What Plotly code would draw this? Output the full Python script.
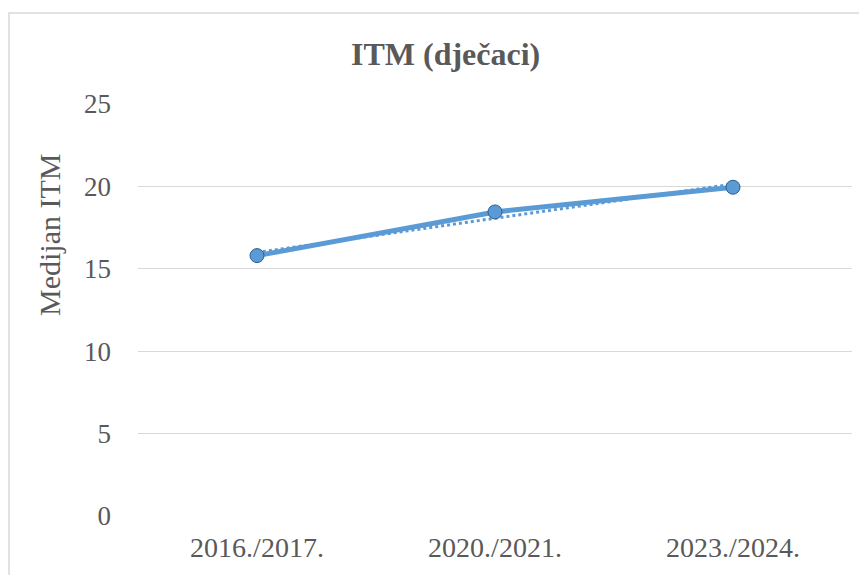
import numpy as np
import plotly.graph_objects as go

categories = ["2016./2017.", "2020./2021.", "2023./2024."]
median_itm = [15.8, 18.45, 19.95]
y_ticks = [0, 5, 10, 15, 20, 25]

xi = np.arange(len(categories))
slope, intercept = np.polyfit(xi, median_itm, 1)
trend = slope * xi + intercept

# page has an 8px body margin; work in screen pixels and shift
OFF = 8
W, H = 867 - OFF, 575 - OFF
L, R, T, B = 138 - OFF, 15, 104 - OFF, 59
pw, ph = W - L - R, H - T - B

def px(sx):
    return (sx - OFF - L) / pw

def py(sy):
    return (H - B - (sy - OFF)) / ph

blue = "#5B9BD5"
grey_txt = "#595959"
font = "Liberation Serif"

fig = go.Figure()
fig.add_trace(go.Scatter(x=xi, y=trend, mode="lines",
                         line=dict(color=blue, width=3, dash="dot"),
                         hoverinfo="skip", showlegend=False))
fig.add_trace(go.Scatter(x=xi, y=median_itm, mode="lines+markers",
                         line=dict(color=blue, width=5),
                         marker=dict(size=14, color=blue, line=dict(color="#2A5F8F", width=1)),
                         showlegend=False))

fig.update_layout(
    width=W, height=H,
    margin=dict(l=L, r=R, t=T, b=B),
    paper_bgcolor="white", plot_bgcolor="white",
    font=dict(family=font, color=grey_txt, size=27),
    xaxis=dict(range=[-0.5, 2.5], tickvals=list(xi), ticktext=categories,
               showgrid=False, zeroline=False, showline=False, ticks="",
               ticklabelstandoff=12, tickfont=dict(size=28, color=grey_txt)),
    yaxis=dict(range=[0, 25], tickvals=y_ticks, showgrid=True, gridcolor="#D9D9D9",
               gridwidth=1, zeroline=False, showline=False, ticks="",
               ticklabelstandoff=26, tickfont=dict(size=27, color=grey_txt)),
    shapes=[dict(type="rect", xref="paper", yref="paper",
                 x0=px(9), x1=px(900), y0=py(600), y1=py(13),
                 line=dict(color="#D9D9D9", width=1.5), fillcolor="rgba(0,0,0,0)",
                 layer="below")],
    annotations=[
        dict(text="<b>ITM (dječaci)</b>", xref="paper", yref="paper",
             x=px(445), y=py(54), showarrow=False,
             font=dict(family=font, size=32, color=grey_txt),
             xanchor="center", yanchor="middle"),
        dict(text="Medijan ITM", xref="paper", yref="paper",
             x=px(49), y=py(235), showarrow=False, textangle=-90,
             font=dict(family=font, size=30, color=grey_txt),
             xanchor="center", yanchor="middle"),
    ],
)

fig.write_html("out.html")
